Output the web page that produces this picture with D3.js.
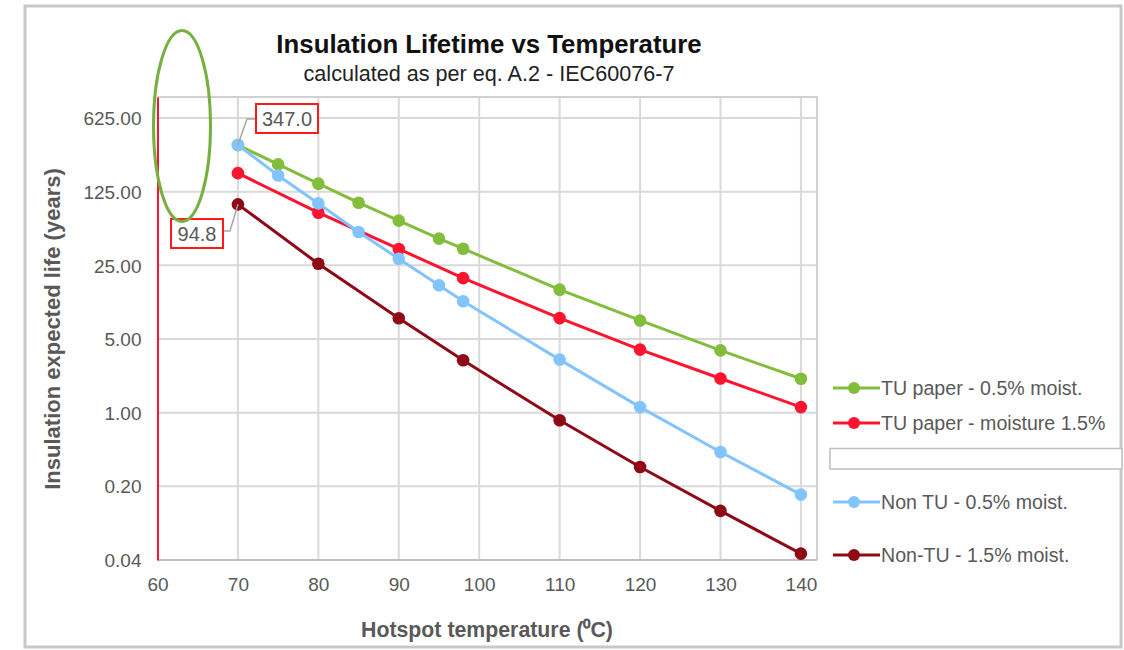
<!DOCTYPE html>
<html>
<head>
<meta charset="utf-8">
<script src="https://cdn.jsdelivr.net/npm/d3@7"></script>
<style>
  body { margin: 0; background: #fff; }
  svg { font-family: "Liberation Sans", Arial, sans-serif; }
  .tick text { fill: #595959; font-size: 19px; }
</style>
</head>
<body>
<svg id="chart" width="1124" height="650"></svg>
<script>
// data (years)
const tempsFull = [70, 75, 80, 85, 90, 95, 98, 110, 120, 130, 140];
const tempsShort = [70, 80, 90, 98, 110, 120, 130, 140];
const tuDry = [347, 227, 149, 98.3, 66.4, 44.8, 36.0, 14.7, 7.5, 3.9, 2.1];
const tuWet = [187.5, 79, 35.8, 18.9, 7.9, 3.97, 2.11, 1.13];
const nonTuDry = [347, 178, 96.8, 51.8, 28.9, 16.2, 11.4, 3.19, 1.13, 0.424, 0.167];
const nonTuWet = [94.8, 25.9, 7.86, 3.14, 0.847, 0.305, 0.117, 0.046];

const xTicks = [60, 70, 80, 90, 100, 110, 120, 130, 140];
const yTicks = [0.04, 0.2, 1, 5, 25, 125, 625];

const seriesNames = ["TU paper - 0.5% moist.", "TU paper - moisture 1.5%", "Non TU - 0.5% moist.", "Non-TU - 1.5% moist."];
const seriesColors = ["#82bd3c", "#ff1430", "#82c4ff", "#8e0a16"];

const series = [
  {name: seriesNames[0], color: seriesColors[0], x: tempsFull, y: tuDry},
  {name: seriesNames[1], color: seriesColors[1], x: tempsShort, y: tuWet},
  {name: seriesNames[2], color: seriesColors[2], x: tempsFull, y: nonTuDry},
  {name: seriesNames[3], color: seriesColors[3], x: tempsShort, y: nonTuWet}
];

const plot = {left: 157.5, right: 817, top: 97, bottom: 560};

const svg = d3.select("#chart");

// outer chart frame
svg.append("rect")
  .attr("x", 25).attr("y", 6)
  .attr("width", 1096).attr("height", 641)
  .attr("fill", "#fff")
  .attr("stroke", "#c8c8c8")
  .attr("stroke-width", 3);

// scales
const x = d3.scaleLinear().domain([60, 142]).range([plot.left, plot.right]);
const y = d3.scaleLog().base(5).domain([0.04, 990]).range([plot.bottom, plot.top]);

// gridlines
const grid = svg.append("g");
grid.selectAll(".hg").data(yTicks.slice(1)).join("line")
  .attr("x1", plot.left).attr("x2", plot.right)
  .attr("y1", d => y(d)).attr("y2", d => y(d))
  .attr("stroke", "#d9d9d9").attr("stroke-width", 2);
grid.selectAll(".vg").data(xTicks.slice(1)).join("line")
  .attr("x1", d => x(d)).attr("x2", d => x(d))
  .attr("y1", plot.top).attr("y2", plot.bottom)
  .attr("stroke", "#d9d9d9").attr("stroke-width", 2);

// plot border top/right
svg.append("path")
  .attr("d", `M${plot.left},${plot.top}H${plot.right}V${plot.bottom}`)
  .attr("fill", "none").attr("stroke", "#d0d0d0").attr("stroke-width", 2);

// axes
const xAxis = d3.axisBottom(x).tickValues(xTicks).tickSize(0).tickPadding(18).tickFormat(d3.format("d"));
const gx = svg.append("g").attr("transform", `translate(0,${plot.bottom})`).call(xAxis);
gx.select(".domain").attr("stroke", "#bfbfbf").attr("stroke-width", 2)
  .attr("d", `M${plot.left},0H${plot.right}`);

const yAxis = d3.axisLeft(y).tickValues(yTicks).tickSize(0).tickPadding(16).tickFormat(d3.format(".2f"));
const gy = svg.append("g").attr("transform", `translate(${plot.left},0)`).call(yAxis);
gy.select(".domain").attr("stroke", "#ff1430").attr("stroke-width", 2);
gy.selectAll(".tick text").attr("dy", "0.35em");

// lines + markers
const line = d3.line().x(d => x(d[0])).y(d => y(d[1]));
series.forEach(s => {
  const pts = s.x.map((t, i) => [t, s.y[i]]);
  const g = svg.append("g");
  g.append("path").datum(pts)
    .attr("d", line)
    .attr("fill", "none")
    .attr("stroke", s.color)
    .attr("stroke-width", 3);
  g.selectAll("circle").data(pts).join("circle")
    .attr("cx", d => x(d[0])).attr("cy", d => y(d[1]))
    .attr("r", 6.3)
    .attr("fill", s.color);
});

// titles
svg.append("text")
  .attr("x", 489).attr("y", 53)
  .attr("text-anchor", "middle")
  .attr("font-weight", "bold").attr("font-size", 25.8)
  .attr("fill", "#111")
  .text("Insulation Lifetime vs Temperature");
svg.append("text")
  .attr("x", 489).attr("y", 81)
  .attr("text-anchor", "middle")
  .attr("font-size", 21.6)
  .attr("fill", "#222")
  .text("calculated as per eq. A.2 - IEC60076-7");

svg.append("text")
  .attr("x", 487).attr("y", 637)
  .attr("text-anchor", "middle")
  .attr("font-weight", "bold").attr("font-size", 21.3)
  .attr("fill", "#595959")
  .text("Hotspot temperature (⁰C)");
svg.append("text")
  .attr("transform", "translate(60,329) rotate(-90)")
  .attr("text-anchor", "middle")
  .attr("font-weight", "bold").attr("font-size", 22)
  .attr("fill", "#595959")
  .text("Insulation expected life (years)");

// data callouts
function callout(px, py, bx, by, bw, bh, label, leader) {
  svg.append("path")
    .attr("d", leader)
    .attr("fill", "none").attr("stroke", "#a6a6a6").attr("stroke-width", 1.5);
  svg.append("rect")
    .attr("x", bx).attr("y", by).attr("width", bw).attr("height", bh)
    .attr("fill", "#fff").attr("stroke", "#ff1a1a").attr("stroke-width", 2);
  svg.append("text")
    .attr("x", bx + bw / 2).attr("y", by + bh / 2)
    .attr("dy", "0.35em").attr("text-anchor", "middle")
    .attr("font-size", 20).attr("fill", "#595959")
    .text(label);
}
const p1x = x(tempsFull[0]), p1y = y(nonTuDry[0]);
callout(p1x, p1y, 256, 104, 62, 29, d3.format(".1f")(nonTuDry[0]),
  `M256,119H247L${p1x},${p1y}`);
const p2x = x(tempsShort[0]), p2y = y(nonTuWet[0]);
callout(p2x, p2y, 171, 219, 52, 29, d3.format(".1f")(nonTuWet[0]),
  `M223,231H230L${p2x},${p2y}`);

// legend
const legendY = [388, 423, 502, 555];
const legend = svg.append("g");
series.forEach((s, i) => {
  const g = legend.append("g").attr("transform", `translate(833,${legendY[i]})`);
  g.append("line").attr("x1", 0).attr("x2", 47)
    .attr("stroke", s.color).attr("stroke-width", 3);
  g.append("circle").attr("cx", 21).attr("r", 6).attr("fill", s.color);
  g.append("text").attr("x", 48).attr("dy", "0.35em")
    .attr("font-size", 19.6).attr("fill", "#595959")
    .text(s.name);
});
// empty legend slot box
svg.append("rect")
  .attr("x", 830).attr("y", 448.5).attr("width", 292).attr("height", 20.5)
  .attr("fill", "#fff").attr("stroke", "#bfbfbf").attr("stroke-width", 1.5);

// green highlight ellipse
svg.append("ellipse")
  .attr("cx", 182).attr("cy", 126).attr("rx", 28.5).attr("ry", 95.5)
  .attr("fill", "none").attr("stroke", "#76b041").attr("stroke-width", 3);
</script>
</body>
</html>
